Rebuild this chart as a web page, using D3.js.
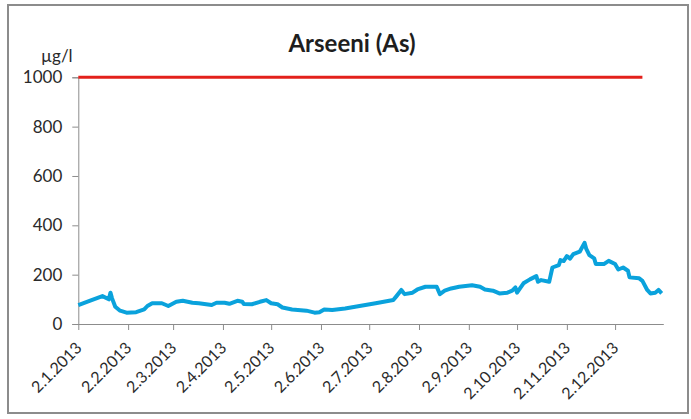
<!DOCTYPE html>
<html><head><meta charset="utf-8">
<script src="https://cdn.jsdelivr.net/npm/d3@7"></script>
<style>body{margin:0;background:#fff}svg{display:block}text{font-family:Lato,"Open Sans",sans-serif}</style>
</head><body><svg id="c" width="691" height="419"></svg>
<script>
const title = "Arseeni (As)";
const unitLabel = "µg/l";
const yTicks = [0, 200, 400, 600, 800, 1000];
const xTickDates = ["2013-01-02","2013-02-02","2013-03-02","2013-04-02","2013-05-02","2013-06-02","2013-07-02","2013-08-02","2013-09-02","2013-10-02","2013-11-02","2013-12-02"];
const asDates = ["2013-01-02","2013-01-09","2013-01-17","2013-01-21","2013-01-22","2013-01-23","2013-01-25","2013-01-28","2013-02-01","2013-02-07","2013-02-12","2013-02-14","2013-02-17","2013-02-23","2013-02-27","2013-03-04","2013-03-08","2013-03-14","2013-03-18","2013-03-26","2013-03-29","2013-04-03","2013-04-06","2013-04-11","2013-04-14","2013-04-15","2013-04-20","2013-04-25","2013-04-29","2013-05-02","2013-05-06","2013-05-09","2013-05-15","2013-05-24","2013-05-29","2013-06-01","2013-06-04","2013-06-09","2013-06-17","2013-06-26","2013-07-06","2013-07-17","2013-07-19","2013-07-22","2013-07-24","2013-07-29","2013-08-01","2013-08-06","2013-08-13","2013-08-15","2013-08-18","2013-08-22","2013-08-27","2013-09-04","2013-09-09","2013-09-12","2013-09-17","2013-09-21","2013-09-26","2013-09-29","2013-10-01","2013-10-02","2013-10-06","2013-10-10","2013-10-14","2013-10-15","2013-10-17","2013-10-22","2013-10-24","2013-10-28","2013-10-29","2013-10-31","2013-11-02","2013-11-04","2013-11-06","2013-11-10","2013-11-13","2013-11-14","2013-11-16","2013-11-19","2013-11-20","2013-11-25","2013-11-28","2013-12-02","2013-12-04","2013-12-07","2013-12-10","2013-12-11","2013-12-17","2013-12-19","2013-12-22","2013-12-24","2013-12-27","2013-12-29","2013-12-31"];
const asValues = [77,94,113,100,127,104,70,54,46,48,59,73,84,84,73,90,94,86,84,77,86,86,82,94,90,81,80,90,97,84,80,67,59,54,46,48,59,57,63,73,84,97,113,138,121,127,140,151,151,121,135,144,151,157,151,140,135,124,127,135,148,127,165,181,194,171,178,171,229,239,259,255,275,265,283,293,329,306,279,266,243,243,256,243,221,229,216,189,185,175,138,124,127,138,124];
const limitDates = ["2013-01-02","2013-12-19"];
const limitValues = [1000,1000];

const parse = d3.timeParse("%Y-%m-%d");
const fmt = d3.timeFormat("%-d.%-m.%Y");
const svg = d3.select("#c");
const L = 78.3, R = 663.3, T = 77.3, B = 324;
const FONT = "Lato,'Open Sans',sans-serif";

svg.append("rect").attr("x",8).attr("y",5).attr("width",680).attr("height",408)
  .attr("fill","#fff").attr("stroke","#8c8c8c").attr("stroke-width",2);

const x = d3.scaleTime().domain([parse("2013-01-02"), parse("2014-01-01")]).range([L, R]);
const y = d3.scaleLinear().domain([0, 1000]).range([B, T]);

svg.append("text").attr("x",352).attr("y",52).attr("text-anchor","middle")
  .attr("font-size",24).attr("font-weight","bold").attr("fill","#1e1e1e").text(title);
svg.append("text").attr("x",41).attr("y",62)
  .attr("font-size",17).attr("fill","#2a2a2a").text(unitLabel);

const ya = svg.append("g").attr("transform",`translate(${L},0)`)
  .call(d3.axisLeft(y).tickValues(yTicks).tickSize(6).tickPadding(10).tickFormat(d3.format("d")));
ya.select(".domain").attr("stroke","#8c8c8c");
ya.selectAll(".tick line").attr("stroke","#8c8c8c");
ya.selectAll("text").attr("font-size",17).attr("fill","#2a2a2a").attr("font-family",FONT);

const xa = svg.append("g").attr("transform",`translate(0,${B})`)
  .call(d3.axisBottom(x).tickValues(xTickDates.map(parse)).tickSize(6).tickSizeOuter(0).tickFormat(fmt));
xa.select(".domain").attr("stroke","#8c8c8c");
xa.selectAll(".tick line").attr("stroke","#8c8c8c");
xa.selectAll("text").attr("font-size",16).attr("fill","#2a2a2a").attr("font-family",FONT)
  .attr("text-anchor","end").attr("x",0).attr("y",0).attr("dy",null)
  .attr("transform","translate(4,25) rotate(-45)");

const line = d3.line().x(d => x(d[0])).y(d => y(d[1]));
svg.append("path").datum(limitDates.map((d,i)=>[parse(d),limitValues[i]]))
  .attr("d",line).attr("fill","none").attr("stroke","#e3201b").attr("stroke-width",3);
svg.append("path").datum(asDates.map((d,i)=>[parse(d),asValues[i]]))
  .attr("d",line).attr("fill","none").attr("stroke","#0aa2dc").attr("stroke-width",4)
  .attr("stroke-linejoin","round");
</script></body></html>
